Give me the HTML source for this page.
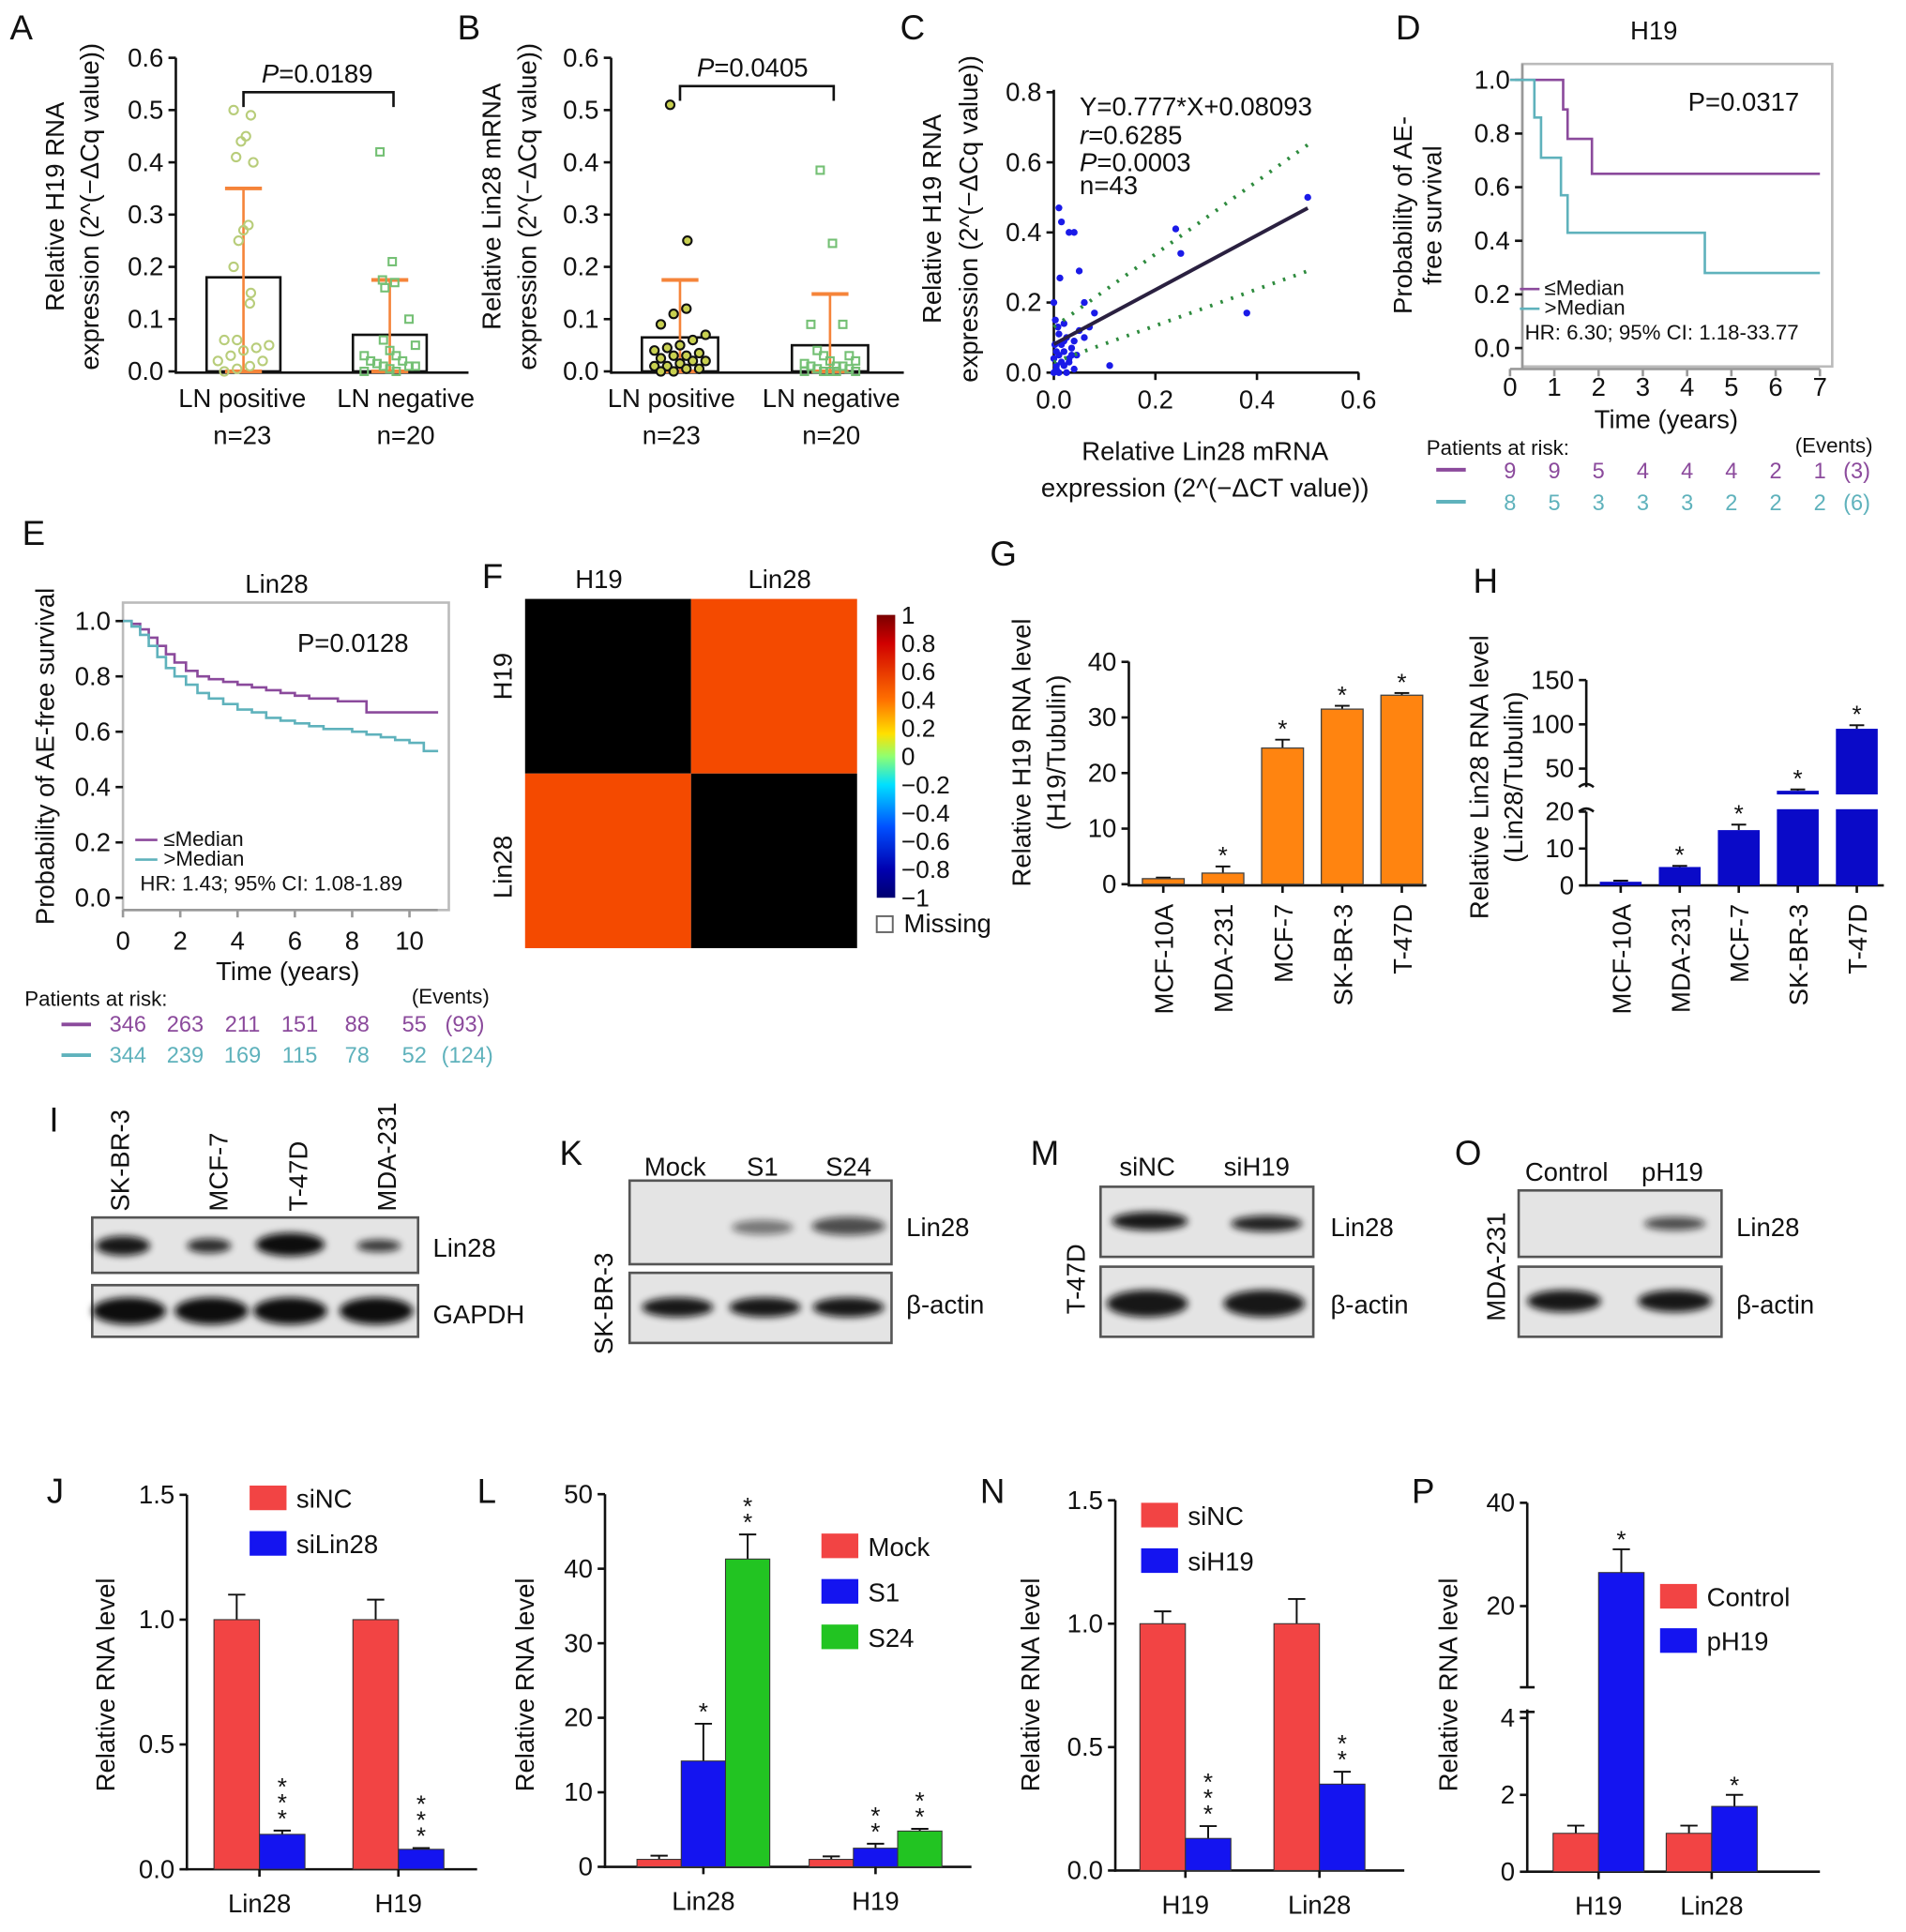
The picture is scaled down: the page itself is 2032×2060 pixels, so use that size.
<!DOCTYPE html>
<html><head><meta charset="utf-8">
<style>
html,body{margin:0;padding:0;background:#fff;}
svg{display:block;font-family:"Liberation Sans",Arial,sans-serif;}
text{fill:#111;}
</style></head>
<body>
<svg id="fig" width="2032" height="2060" viewBox="0 0 1550 1571" preserveAspectRatio="none" xmlns="http://www.w3.org/2000/svg">
<defs><filter id="blur" x="-30%" y="-100%" width="160%" height="300%"><feGaussianBlur stdDeviation="3"/></filter></defs>
<g font-size="28">
<text x="8" y="32">A</text><text x="372" y="32">B</text><text x="732" y="32">C</text><text x="1135" y="32">D</text>
<text x="18" y="443">E</text><text x="392" y="478">F</text><text x="805" y="460">G</text><text x="1198" y="482">H</text>
<text x="40" y="920">I</text><text x="455" y="947">K</text><text x="838" y="947">M</text><text x="1183" y="947">O</text>
<text x="38" y="1222">J</text><text x="388" y="1222">L</text><text x="797" y="1222">N</text><text x="1148" y="1222">P</text>
</g>
<g font-size="21">
<text transform="translate(52,168) rotate(-90)" text-anchor="middle">Relative H19 RNA</text>
<text transform="translate(80,168) rotate(-90)" text-anchor="middle">expression (2^(−ΔCq value))</text>
<text x="258" y="67" text-anchor="middle"><tspan font-style="italic">P</tspan>=0.0189</text>
<text x="197" y="331" text-anchor="middle">LN positive</text><text x="330" y="331" text-anchor="middle">LN negative</text>
<text x="197" y="361" text-anchor="middle">n=23</text><text x="330" y="361" text-anchor="middle">n=20</text>
<text transform="translate(407,168) rotate(-90)" text-anchor="middle">Relative Lin28 mRNA</text>
<text transform="translate(436,168) rotate(-90)" text-anchor="middle">expression (2^(−ΔCq value))</text>
<text x="612" y="62" text-anchor="middle"><tspan font-style="italic">P</tspan>=0.0405</text>
<text x="546" y="331" text-anchor="middle">LN positive</text><text x="676" y="331" text-anchor="middle">LN negative</text>
<text x="546" y="361" text-anchor="middle">n=23</text><text x="676" y="361" text-anchor="middle">n=20</text>
<text transform="translate(765,178) rotate(-90)" text-anchor="middle">Relative H19 RNA</text>
<text transform="translate(795,178) rotate(-90)" text-anchor="middle">expression (2^(−ΔCq value))</text>
<text x="980" y="374" text-anchor="middle">Relative Lin28 mRNA</text>
<text x="980" y="404" text-anchor="middle">expression (2^(−ΔCT value))</text>
<text x="878" y="94">Y=0.777*X+0.08093</text>
<text x="878" y="117"><tspan font-style="italic">r</tspan>=0.6285</text>
<text x="878" y="139"><tspan font-style="italic">P</tspan>=0.0003</text>
<text x="878" y="158">n=43</text>
<text x="1345" y="32" text-anchor="middle">H19</text>
<text x="1418" y="90" text-anchor="middle">P=0.0317</text>
<text transform="translate(1148,175) rotate(-90)" text-anchor="middle">Probability of AE-</text>
<text transform="translate(1172,175) rotate(-90)" text-anchor="middle">free survival</text>
<text x="1355" y="348" text-anchor="middle">Time (years)</text>
<text x="225" y="482" text-anchor="middle">Lin28</text>
<text x="287" y="530" text-anchor="middle">P=0.0128</text>
<text transform="translate(44,615) rotate(-90)" text-anchor="middle">Probability of AE-free survival</text>
<text x="234" y="797" text-anchor="middle">Time (years)</text>
<text x="487" y="478" text-anchor="middle">H19</text><text x="634" y="478" text-anchor="middle">Lin28</text>
<text transform="translate(416,550) rotate(-90)" text-anchor="middle">H19</text>
<text transform="translate(416,705) rotate(-90)" text-anchor="middle">Lin28</text>
<text x="735" y="758">Missing</text>
<text transform="translate(838,612) rotate(-90)" text-anchor="middle">Relative H19 RNA level</text>
<text transform="translate(866,612) rotate(-90)" text-anchor="middle">(H19/Tubulin)</text>
<text transform="translate(1210,632) rotate(-90)" text-anchor="middle">Relative Lin28 RNA level</text>
<text transform="translate(1238,632) rotate(-90)" text-anchor="middle">(Lin28/Tubulin)</text>
</g>
<g font-size="17">
<text x="1256" y="240">≤Median</text><text x="1256" y="256">&gt;Median</text>
<text x="1240" y="276">HR: 6.30; 95% CI: 1.18-33.77</text>
<text x="1160" y="370">Patients at risk:</text><text x="1523" y="368" text-anchor="end">(Events)</text>
<text x="133" y="688">≤Median</text><text x="133" y="704">&gt;Median</text>
<text x="114" y="724">HR: 1.43; 95% CI: 1.08-1.89</text>
<text x="20" y="818">Patients at risk:</text><text x="398" y="816" text-anchor="end">(Events)</text>
</g>
<g id="blots" font-size="21"></g>
<g font-size="21">
<text transform="translate(105,985) rotate(-90)">SK-BR-3</text>
<text transform="translate(185,985) rotate(-90)">MCF-7</text>
<text transform="translate(250,985) rotate(-90)">T-47D</text>
<text transform="translate(322,985) rotate(-90)">MDA-231</text>
<text x="352" y="1022">Lin28</text><text x="352" y="1076">GAPDH</text>
<text x="549" y="956" text-anchor="middle">Mock</text><text x="620" y="956" text-anchor="middle">S1</text><text x="690" y="956" text-anchor="middle">S24</text>
<text transform="translate(498,1060) rotate(-90)" text-anchor="middle">SK-BR-3</text>
<text x="737" y="1005">Lin28</text><text x="737" y="1068">β-actin</text>
<text x="933" y="956" text-anchor="middle">siNC</text><text x="1022" y="956" text-anchor="middle">siH19</text>
<text transform="translate(882,1040) rotate(-90)" text-anchor="middle">T-47D</text>
<text x="1082" y="1005">Lin28</text><text x="1082" y="1068">β-actin</text>
<text x="1274" y="960" text-anchor="middle">Control</text><text x="1360" y="960" text-anchor="middle">pH19</text>
<text transform="translate(1224,1030) rotate(-90)" text-anchor="middle">MDA-231</text>
<text x="1412" y="1005">Lin28</text><text x="1412" y="1068">β-actin</text>
<text transform="translate(93,1370) rotate(-90)" text-anchor="middle">Relative RNA level</text>
<text transform="translate(434,1370) rotate(-90)" text-anchor="middle">Relative RNA level</text>
<text transform="translate(845,1370) rotate(-90)" text-anchor="middle">Relative RNA level</text>
<text transform="translate(1185,1370) rotate(-90)" text-anchor="middle">Relative RNA level</text>
</g>
<g id="marks"></g>
</svg>
<script>
const NS='http://www.w3.org/2000/svg';
const G=document.getElementById('marks');
function mk(tag,attrs,parent){const e=document.createElementNS(NS,tag);for(const k in attrs)e.setAttribute(k,attrs[k]);(parent||G).appendChild(e);return e;}
function txt(x,y,s,attrs){const t=mk('text',Object.assign({x:x,y:y},attrs||{}));t.textContent=s;return t;}

/* ---------- data ---------- */
const aMeans=[0.18,0.07];
const aErr=[0.35,0.175];
const aPos=[0.5,0.49,0.45,0.44,0.41,0.40,0.28,0.27,0.25,0.20,0.15,0.13,0.06,0.06,0.05,0.045,0.04,0.03,0.02,0.02,0.01,0.005,0.0];
const aNeg=[0.42,0.21,0.175,0.17,0.16,0.10,0.06,0.05,0.04,0.03,0.03,0.02,0.02,0.015,0.01,0.01,0.01,0.005,0.0,0.0];
const bMeans=[0.065,0.05];
const bErr=[0.175,0.148];
const bPos=[0.51,0.25,0.12,0.11,0.09,0.07,0.06,0.05,0.045,0.04,0.035,0.03,0.03,0.025,0.02,0.02,0.015,0.01,0.01,0.005,0.005,0.0,0.0];
const bNeg=[0.385,0.245,0.09,0.09,0.04,0.03,0.03,0.02,0.02,0.015,0.01,0.01,0.01,0.005,0.005,0.0,0.0,0.0,0.0,0.0];
const abTicks=[0,0.1,0.2,0.3,0.4,0.5,0.6];
const cX=[0.01,0.015,0.03,0.04,0.05,0.012,0.0,0.06,0.02,0.08,0.24,0.25,0.38,0.5,0.11,0.0,0.005,0.01,0.015,0.02,0.025,0.03,0.035,0.04,0.045,0.05,0.0,0.005,0.01,0.02,0.03,0.04,0.01,0.02,0.06,0.07,0.005,0.015,0.025,0.035,0.002,0.008,0.003];
const cY=[0.47,0.43,0.40,0.40,0.29,0.27,0.20,0.20,0.14,0.17,0.41,0.34,0.17,0.50,0.02,0.0,0.02,0.05,0.08,0.06,0.1,0.03,0.07,0.09,0.05,0.12,0.04,0.01,0.11,0.02,0.04,0.01,0.0,0.09,0.1,0.13,0.06,0.03,0.0,0.05,0.08,0.13,0.15];
const cTicksY=[0,0.2,0.4,0.6,0.8];
const cTicksX=[0,0.2,0.4,0.6];
const dT1=[0,1.2,1.3,1.85,7];
const dS1=[1.0,0.89,0.78,0.65,0.65];
const dT2=[0,0.55,0.7,1.15,1.3,4.4,7];
const dS2=[1.0,0.86,0.71,0.57,0.43,0.28,0.28];
const dRisk1=[9,9,5,4,4,4,2,1];
const dRisk2=[8,5,3,3,3,2,2,2];
const dEvents=['(3)','(6)'];
const eT1=[0,0.3,0.6,0.9,1.2,1.5,1.8,2.2,2.6,3,3.5,4,4.5,5,5.5,6,6.5,7,7.5,8,8.5,9,10,11];
const eS1=[1.0,0.99,0.97,0.94,0.91,0.88,0.85,0.82,0.80,0.79,0.78,0.77,0.76,0.75,0.74,0.73,0.72,0.72,0.71,0.71,0.67,0.67,0.67,0.67];
const eT2=[0,0.3,0.6,0.9,1.2,1.5,1.8,2.2,2.6,3,3.5,4,4.5,5,5.5,6,6.5,7,7.5,8,8.5,9,9.5,10,10.5,11];
const eS2=[1.0,0.98,0.95,0.91,0.87,0.83,0.80,0.77,0.74,0.72,0.70,0.68,0.67,0.65,0.64,0.63,0.62,0.61,0.61,0.60,0.59,0.58,0.57,0.56,0.53,0.53];
const eRisk1=[346,263,211,151,88,55];
const eRisk2=[344,239,169,115,78,52];
const eEvents=['(93)','(124)'];
const fCorr=[[1,0.63],[0.63,1]];
const fCbTicks=['1','0.8','0.6','0.4','0.2','0','−0.2','−0.4','−0.6','−0.8','−1'];
const cellLines=['MCF-10A','MDA-231','MCF-7','SK-BR-3','T-47D'];
const gVals=[1,2,24.5,31.5,34];
const gErr=[0.2,1.2,1.5,0.6,0.4];
const gStar=[false,true,true,true,true];
const gTicks=[0,10,20,30,40];
const hVals=[1,5,15,25,95];
const hErr=[0.3,0.3,1.5,1.5,4];
const hTicksLow=[0,10,20];
const hTicksHigh=[50,100,150];
const jCats=['Lin28','H19'];
const jSiNC=[1.0,1.0];
const jSiNCErr=[0.1,0.08];
const jSiLin=[0.14,0.08];
const jSiLinErr=[0.015,0.005];
const jTicks=[0,0.5,1.0,1.5];
const lCats=['Lin28','H19'];
const lMock=[1,1];const lMockErr=[0.5,0.4];
const lS1=[14.2,2.5];const lS1Err=[5,0.6];
const lS24=[41.3,4.8];const lS24Err=[3.3,0.3];
const lTicks=[0,10,20,30,40,50];
const nCats=['H19','Lin28'];
const nSiNC=[1.0,1.0];const nSiNCErr=[0.05,0.1];
const nSiH=[0.13,0.35];const nSiHErr=[0.05,0.05];
const nTicks=[0,0.5,1.0,1.5];
const pCats=['H19','Lin28'];
const pCtrl=[1,1];const pCtrlErr=[0.2,0.2];
const pH19=[26.5,1.7];const pH19Err=[4.5,0.3];
const pTicksLow=[0,2,4];
const pTicksHigh=[20,40];

const RED='#f24444',BLUE='#1414f0',GREEN='#22c422',ORANGE='#ff8410',NAVY='#0a0ac8',PURP='#8b4a9c',CYAN='#5fb2bc';

function yAxis(x,ticks,scale,fmt,fs,len){
  for(const t of ticks){const y=scale(t);
    const l=mk('line',{x1:x-(len||6),x2:x,y1:y,y2:y,stroke:'#111','stroke-width':2});
    
    
    const tx=txt(x-(len||6)-4,y+7,fmt(t),{'text-anchor':'end','font-size':fs||21});
    
    }
}
function line(x1,y1,x2,y2,c,w,extra){return mk('line',Object.assign({x1,y1,x2,y2,stroke:c||'#111','stroke-width':w||2},extra||{}));}
function f1(v){return v.toFixed(1);}

/* ---------- A & B ---------- */
function dotPanel(ax,x0,x1,means,errs,pos,neg,bw,bracketY,c1,c2,fill1){
  const y=v=>302-v*425;
  const ln=line(ax,47,ax,304);
  const lx=line(ax,303,ax+238,303);
  yAxis(ax,abTicks,y,f1);
  const cx=[x0,x1];
  for(let i=0;i<2;i++){
    const r=mk('rect',{x:cx[i]-bw/2,y:y(means[i]),width:bw,height:302-y(means[i]),fill:'none',stroke:'#111','stroke-width':2});
    
    
    const e=line(cx[i],y(errs[i]),cx[i],302,'#f5843a',2);
    
    
    line(cx[i]-15,y(errs[i]),cx[i]+15,y(errs[i]),'#f5843a',3);
    line(cx[i]-15,302,cx[i]+15,302,'#f5843a',3);
  }
  pos.forEach((v,i)=>{const off=((i*7)%9-4)*4*(v<0.15?1.3:0.5);
    const p=mk('circle',{cx:x0+off,cy:y(v),r:3.5,fill:fill1,stroke:c1,'stroke-width':1.6});
    
    });
  neg.forEach((v,i)=>{const off=((i*5)%9-4)*4*(v<0.15?1.3:0.5);
    const p=mk('rect',{x:x1+off-3,y:y(v)-3,width:6,height:6,fill:'none',stroke:c2,'stroke-width':1.6});
    
    });
  const br=mk('path',{d:`M${x0},${bracketY+12}V${bracketY}H${x1+3}V${bracketY+12}`,fill:'none',stroke:'#111','stroke-width':2});
  
  
}
dotPanel(143,198,317,aMeans,aErr,aPos,aNeg,60,75,'#b8cd7a','#74c074','none');
dotPanel(497,553,675,bMeans,bErr,bPos,bNeg,62,70,'#111','#74c074','#c8d050');

/* ---------- C ---------- */
{const y=v=>303-v*285,x=v=>857+v*413;
 const a1=line(857,73,857,304);
 const a2=line(856,303,1105,303);
 yAxis(857,cTicksY,y,f1);
 for(const t of cTicksX){line(x(t),303,x(t),309);const tl=txt(x(t),332,f1(t),{'text-anchor':'middle','font-size':21});}
 cX.forEach((v,i)=>{const p=mk('circle',{cx:x(v),cy:y(cY[i]),r:2.8,fill:'#1a1ae8'});
   
   });
 const slope=0.777,icp=0.08093;
 const rl=line(x(0),y(icp),x(0.5),y(icp+slope*0.5),'#2a2040',3);
 const u=line(x(0),y(0.13),x(0.5),y(0.65),'#2e8b3e',3,{'stroke-dasharray':'2 7'});
 const l=line(x(0),y(0.03),x(0.5),y(0.29),'#2e8b3e',3,{'stroke-dasharray':'2 7'});
}

function km(T,S,x,y,c,name){let d=`M${x(T[0])},${y(S[0])}`;for(let i=1;i<T.length;i++){d+=`H${x(T[i])}V${y(S[i])}`;}
  const p=mk('path',{d:d,fill:'none',stroke:c,'stroke-width':2});}

/* ---------- D ---------- */
{const x=v=>1228+v*36,y=v=>283-v*218;
 const fr=mk('rect',{x:1238,y:52,width:252,height:246,fill:'none',stroke:'#bbb','stroke-width':2});
 line(1238,52,1238,300,'#999',2);
 yAxis(1238,[0,0.2,0.4,0.6,0.8,1.0],y,f1,21);
 line(1228,300,1480,300,'#999',2);
 for(let t=0;t<=7;t++){line(x(t),300,x(t),306,'#999',2);const tl=txt(x(t),322,String(t),{'text-anchor':'middle','font-size':21});}
 km(dT1,dS1,x,y,PURP,'km-low');km(dT2,dS2,x,y,CYAN,'km-high');
 line(1236,235,1252,235,PURP,2);line(1236,251,1252,251,CYAN,2);
 line(1168,382,1192,382,PURP,3);line(1168,408,1192,408,CYAN,3);
 dRisk1.forEach((v,i)=>{const t=txt(x(i),389,String(v),{'text-anchor':'middle','font-size':18});t.style.fill=PURP;});
 dRisk2.forEach((v,i)=>{const t=txt(x(i),415,String(v),{'text-anchor':'middle','font-size':18});t.style.fill=CYAN;});
 txt(1510,389,dEvents[0],{'text-anchor':'middle','font-size':18}).style.fill=PURP;
 txt(1510,415,dEvents[1],{'text-anchor':'middle','font-size':18}).style.fill=CYAN;
}
/* ---------- E ---------- */
{const x=v=>100+v*23.3,y=v=>730-v*225;
 const fr=mk('rect',{x:100,y:490,width:265,height:250,fill:'none',stroke:'#bbb','stroke-width':2});
 yAxis(100,[0,0.2,0.4,0.6,0.8,1.0],y,f1,21);
 line(100,740,356,740,'#999',2);
 for(let t=0;t<=10;t+=2){line(x(t),740,x(t),746,'#999',2);const tl=txt(x(t),772,String(t),{'text-anchor':'middle','font-size':21});}
 km(eT1,eS1,x,y,PURP,'km-low');km(eT2,eS2,x,y,CYAN,'km-high');
 line(110,683,128,683,PURP,2);line(110,699,128,699,CYAN,2);
 line(50,833,74,833,PURP,3);line(50,858,74,858,CYAN,3);
 eRisk1.forEach((v,i)=>{txt(x(i*2)+4,839,String(v),{'text-anchor':'middle','font-size':18}).style.fill=PURP;});
 eRisk2.forEach((v,i)=>{txt(x(i*2)+4,864,String(v),{'text-anchor':'middle','font-size':18}).style.fill=CYAN;});
 txt(378,839,eEvents[0],{'text-anchor':'middle','font-size':18}).style.fill=PURP;
 txt(380,864,eEvents[1],{'text-anchor':'middle','font-size':18}).style.fill=CYAN;
}
/* ---------- F ---------- */
{const cw=135,ch=142;
 for(let r=0;r<2;r++)for(let c=0;c<2;c++){
   const v=fCorr[r][c];
   const cell=mk('rect',{x:427+c*cw,y:487+r*ch,width:cw,height:ch,fill:(v>0.9?'#000':'#f44a00')});
   
   }
 const gr=mk('linearGradient',{id:'cb',x1:0,y1:0,x2:0,y2:1},document.querySelector('defs'));
 [['0','#7a0000'],['0.1','#d00000'],['0.3','#ff7000'],['0.42','#ffe000'],['0.5','#90ff70'],['0.6','#00e0ff'],['0.75','#0050ff'],['0.9','#0000b0'],['1','#000070']].forEach(s=>mk('stop',{offset:s[0],'stop-color':s[1]},gr));
 const cb=mk('rect',{x:713,y:500,width:15,height:230,fill:'url(#cb)'});
 fCbTicks.forEach((t,i)=>{txt(733,507+i*23,t,{'font-size':20});});
 mk('rect',{x:713,y:745,width:13,height:13,fill:'none',stroke:'#666','stroke-width':1.5});
}
/* ---------- G ---------- */
{const y=v=>719-v*4.52,x0=946,dx=48.5;
 line(918,538,918,720);line(917,720,1160,720);
 yAxis(918,gTicks,y,String);
 gVals.forEach((v,i)=>{const cx=x0+i*dx;
   line(cx,y(v+gErr[i]),cx,y(v),'#111',1.5);line(cx-6,y(v+gErr[i]),cx+6,y(v+gErr[i]),'#111',1.5);
   const b=mk('rect',{x:cx-17,y:y(v),width:34,height:719-y(v),fill:ORANGE,stroke:'#444','stroke-width':1});
   
   
   if(gStar[i])txt(cx,y(v+gErr[i])-2,'*',{'text-anchor':'middle','font-size':20});
   line(cx,720,cx,726);
   const tl=txt(0,0,cellLines[i],{'text-anchor':'end','font-size':21,transform:`translate(${cx+8},735) rotate(-90)`});
   });
}
/* ---------- H ---------- */
{const yl=v=>720-v*3,yh=v=>625-(v-50)*0.72;const yv=v=>v<=20?yl(v):yh(v);
 line(1290,553,1290,640);line(1290,660,1290,721);line(1289,720,1532,720);
 yAxis(1290,hTicksLow,yl,String);yAxis(1290,hTicksHigh,yh,String);
 mk('path',{d:'M1284,640 q6,-5 12,0 M1284,660 q6,-5 12,0',fill:'none',stroke:'#111','stroke-width':2});
 hVals.forEach((v,i)=>{const cx=1318+i*48;const top=yv(v),et=yv(v+hErr[i]);
   line(cx,et,cx,top,'#111',1.5);line(cx-6,et,cx+6,et,'#111',1.5);
   const b=mk('rect',{x:cx-17,y:top,width:34,height:720-top,fill:NAVY});
   
   
   if(v>20)mk('rect',{x:cx-19,y:646,width:38,height:12,fill:'#fff'});
   if(i>0)txt(cx,et-2,'*',{'text-anchor':'middle','font-size':20});
   line(cx,720,cx,726);
   const tl=txt(0,0,cellLines[i],{'text-anchor':'end','font-size':21,transform:`translate(${cx+8},735) rotate(-90)`});
   });
}
/* ---------- blots ---------- */
{const B=document.getElementById('blots');
 function box(x,y,w,h){const r=mk('rect',{x,y,width:w,height:h,fill:'#e4e4e4',stroke:'#555','stroke-width':2},B);}
 function band(cx,cy,w,h,op){const e=mk('ellipse',{cx,cy,rx:w/2,ry:h/2,fill:'#0a0a0a',opacity:op,filter:'url(#blur)'},B);}
 box(75,990,265,45);box(75,1045,265,42);
 [[100,1013,44,16,0.95],[170,1013,36,12,0.85],[236,1012,56,19,1],[308,1013,36,10,0.8]].forEach(b=>band(...b));
 [105,172,236,306].forEach(c=>band(c,1066,60,22,1));
 box(512,960,213,68);box(512,1035,213,57);
 band(620,998,50,12,0.5);band(690,997,60,15,0.7);
 [551,622,690].forEach(c=>band(c,1063,58,16,0.95));
 box(895,965,173,57);box(895,1030,173,57);
 band(935,993,62,15,0.95);band(1030,995,58,13,0.9);
 [933,1028].forEach(c=>band(c,1060,66,22,0.95));
 box(1235,968,165,54);box(1235,1030,165,57);
 band(1362,995,50,11,0.7);
 [1272,1362].forEach(c=>band(c,1058,60,18,0.95));
}
/* ---------- grouped bar helper ---------- */
function grouped(ax,x1end,ybase,scale,ticks,fmt,groupsX,series,colors,errs,stars,cats,bw){
  line(ax,scale(ticks[ticks.length-1]),ax,ybase+1);line(ax-1,ybase,x1end,ybase);
  yAxis(ax,ticks,scale,fmt);
  cats.forEach((c,gi)=>{
    const n=series.length;
    series.forEach((s,si)=>{
      const cx=groupsX[gi]+(si-(n-1)/2)*bw;const v=s[gi];const top=scale(v);const et=scale(v+errs[si][gi]);
      line(cx,et,cx,top,'#111',1.5);line(cx-7,et,cx+7,et,'#111',1.5);
      const b=mk('rect',{x:cx-bw/2,y:top,width:bw,height:ybase-top,fill:colors[si],stroke:'#333','stroke-width':0.8});
      
      
      const st=stars[si]&&stars[si][gi];
      if(st){for(let k=0;k<st.length;k++)txt(cx,et+10-(k+1)*13,'*',{'text-anchor':'middle','font-size':20});}
    });
    line(groupsX[gi],ybase,groupsX[gi],ybase+6);
    const tl=txt(groupsX[gi],ybase+35,c,{'text-anchor':'middle','font-size':21});
    
  });
}
function legend(x,y,dy,labels,colors){labels.forEach((l,i)=>{const r=mk('rect',{x:x,y:y+i*dy,width:30,height:20,fill:colors[i]});
  const t=txt(x+38,y+i*dy+18,l,{'font-size':21});});}

grouped(152,388,1520,v=>1520-v*203,jTicks,f1,[211,324],[jSiNC,jSiLin],[RED,BLUE],[jSiNCErr,jSiLinErr],[null,['***','***']],jCats,37);
legend(203,1208,37,['siNC','siLin28'],[RED,BLUE]);
grouped(492,790,1518,v=>1518-v*6.06,lTicks,String,[572,712],[lMock,lS1,lS24],[RED,BLUE,GREEN],[lMockErr,lS1Err,lS24Err],[null,['*','**'],['**','**']],lCats,36);
legend(668,1247,37,['Mock','S1','S24'],[RED,BLUE,GREEN]);
grouped(907,1142,1521,v=>1521-v*200.7,nTicks,f1,[964,1073],[nSiNC,nSiH],[RED,BLUE],[nSiNCErr,nSiHErr],[null,['***','**']],nCats,37);
legend(928,1222,37,['siNC','siH19'],[RED,BLUE]);
{const yl=v=>1522-v*31.25,yh=v=>1306-(v-20)*4.2;const yv=v=>v<=4?yl(v):yh(v);
 line(1242,1222,1242,1372);line(1242,1390,1242,1523);line(1241,1522,1480,1522);
 yAxis(1242,pTicksLow,yl,String);yAxis(1242,pTicksHigh,yh,String);
 mk('path',{d:'M1236,1372 h12 M1236,1392 h12',stroke:'#111','stroke-width':2});
 const groupsX=[1300,1392];const series=[pCtrl,pH19],errs=[pCtrlErr,pH19Err],cols=[RED,BLUE];
 pCats.forEach((c,gi)=>{series.forEach((s,si)=>{const cx=groupsX[gi]+(si-0.5)*37;const v=s[gi];const top=yv(v),et=yv(v+errs[si][gi]);
   line(cx,et,cx,top,'#111',1.5);line(cx-7,et,cx+7,et,'#111',1.5);
   const b=mk('rect',{x:cx-18.5,y:top,width:37,height:1522-top,fill:cols[si],stroke:'#333','stroke-width':0.8});
   
   
   if(si===1)txt(cx,et-1,'*',{'text-anchor':'middle','font-size':20});});
   line(groupsX[gi],1522,groupsX[gi],1528);
   const tl=txt(groupsX[gi],1557,c,{'text-anchor':'middle','font-size':21});});
 legend(1350,1288,36,['Control','pH19'],[RED,BLUE]);
}
</script>
</body></html>
